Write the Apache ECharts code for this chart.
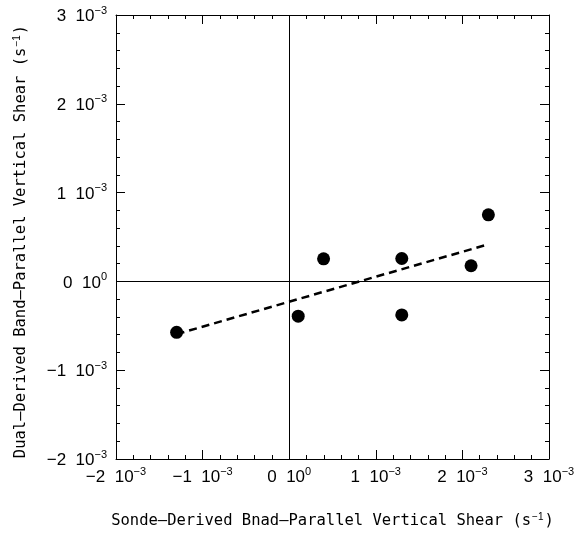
<!DOCTYPE html>
<html>
<head>
<meta charset="utf-8">
<script src="https://cdn.jsdelivr.net/npm/echarts@6/dist/echarts.min.js"></script>
<style>
html,body{margin:0;padding:0;background:#fff;}
#chart{width:586px;height:536px;}
</style>
</head>
<body>
<div id="chart"></div>
<script>
// Sonde-derived (x) vs Dual-derived (y) band-parallel vertical shear, s^-1
const sondeShear = [-0.00130, 0.000104, 0.000397, 0.00130, 0.00130, 0.00210, 0.00230];
const dualShear  = [-0.000574, -0.000392, 0.000254, 0.000258, -0.000377, 0.000176, 0.000750];
// dashed fit line endpoints
const fitX = [-0.00130, 0.00230];
const fitY = [-0.000594, 0.000418];
// axis ticks
const axisMin = -0.002, axisMax = 0.003, axisStep = 0.001;
const xTitle = 'Sonde\u2013Derived Bnad\u2013Parallel Vertical Shear (s{sup|\u22121})';
const yTitle = 'Dual\u2013Derived Band\u2013Parallel Vertical Shear (s{sup|\u22121})';

const FONT = '"Liberation Sans", Arial, sans-serif';
const TITLE_FONT = '"DejaVu Sans Mono", "Liberation Mono", monospace';

function tickLabel(v) {
  const n = Math.round(v / axisStep);
  const num = (n < 0 ? '\u2212' + Math.abs(n) : String(n));
  const exp = (n === 0 ? '0' : '\u22123');
  return '{n|' + num + '  10}{e|' + exp + '}';
}
const rich = {
  n: {fontSize: 17, fontFamily: FONT, color: '#000', verticalAlign: 'bottom', lineHeight: 20},
  e: {fontSize: 11, fontFamily: FONT, color: '#000', verticalAlign: 'top', lineHeight: 20, padding: [0,0,10,0]}
};
const titleRich = {
  sup: {fontSize: 10, fontFamily: FONT, color: '#000', verticalAlign: 'top', lineHeight: 18, padding: [0,1,9,1]}
};

const points = sondeShear.map((x, i) => [x, dualShear[i]]);
const fitLine = fitX.map((x, i) => [x, fitY[i]]);

const baseAxis = {
  type: 'value', min: axisMin, max: axisMax, interval: axisStep,
  axisLine: {show: true, onZero: false, lineStyle: {color: '#000', width: 1}},
  axisTick: {show: true, inside: true, length: 9, lineStyle: {color: '#000', width: 1}},
  minorTick: {show: true, splitNumber: 5, length: 4, lineStyle: {color: '#000', width: 1}},
  splitLine: {show: false},
  minorSplitLine: {show: false}
};

const chart = echarts.init(document.getElementById('chart'), null, {renderer: 'canvas'});
chart.setOption({
  animation: false,
  backgroundColor: '#fff',
  grid: {left: 116, top: 15, right: 37, bottom: 74, containLabel: false},
  xAxis: [
    Object.assign({}, baseAxis, {
      position: 'bottom',
      name: xTitle, nameLocation: 'middle', nameGap: 53,
      nameTextStyle: {fontSize: 15.5, fontFamily: TITLE_FONT, color: '#000', lineHeight: 18, rich: titleRich},
      axisLabel: {show: true, margin: 7, formatter: tickLabel, rich: rich}
    }),
    Object.assign({}, baseAxis, {position: 'top', axisLabel: {show: false}})
  ],
  yAxis: [
    Object.assign({}, baseAxis, {
      position: 'left',
      name: yTitle, nameLocation: 'middle', nameGap: 86, nameRotate: 90,
      nameTextStyle: {fontSize: 15.5, fontFamily: TITLE_FONT, color: '#000', lineHeight: 18, rich: titleRich, padding: [0, 9, 0, 0]},
      axisLabel: {show: true, margin: 9, formatter: tickLabel, rich: rich}
    }),
    Object.assign({}, baseAxis, {position: 'right', axisLabel: {show: false}})
  ],
  series: [
    {
      type: 'line', data: fitLine, symbol: 'none', silent: true,
      lineStyle: {color: '#000', width: 2.5, type: [8, 5]},
      markLine: {
        silent: true, symbol: 'none', label: {show: false},
        lineStyle: {color: '#000', width: 1, type: 'solid'},
        data: [{xAxis: 0}, {yAxis: 0}]
      },
      z: 2
    },
    {
      type: 'scatter', data: points, symbol: 'circle', symbolSize: 13,
      itemStyle: {color: '#000', opacity: 1}, z: 3
    }
  ]
});
</script>
</body>
</html>
